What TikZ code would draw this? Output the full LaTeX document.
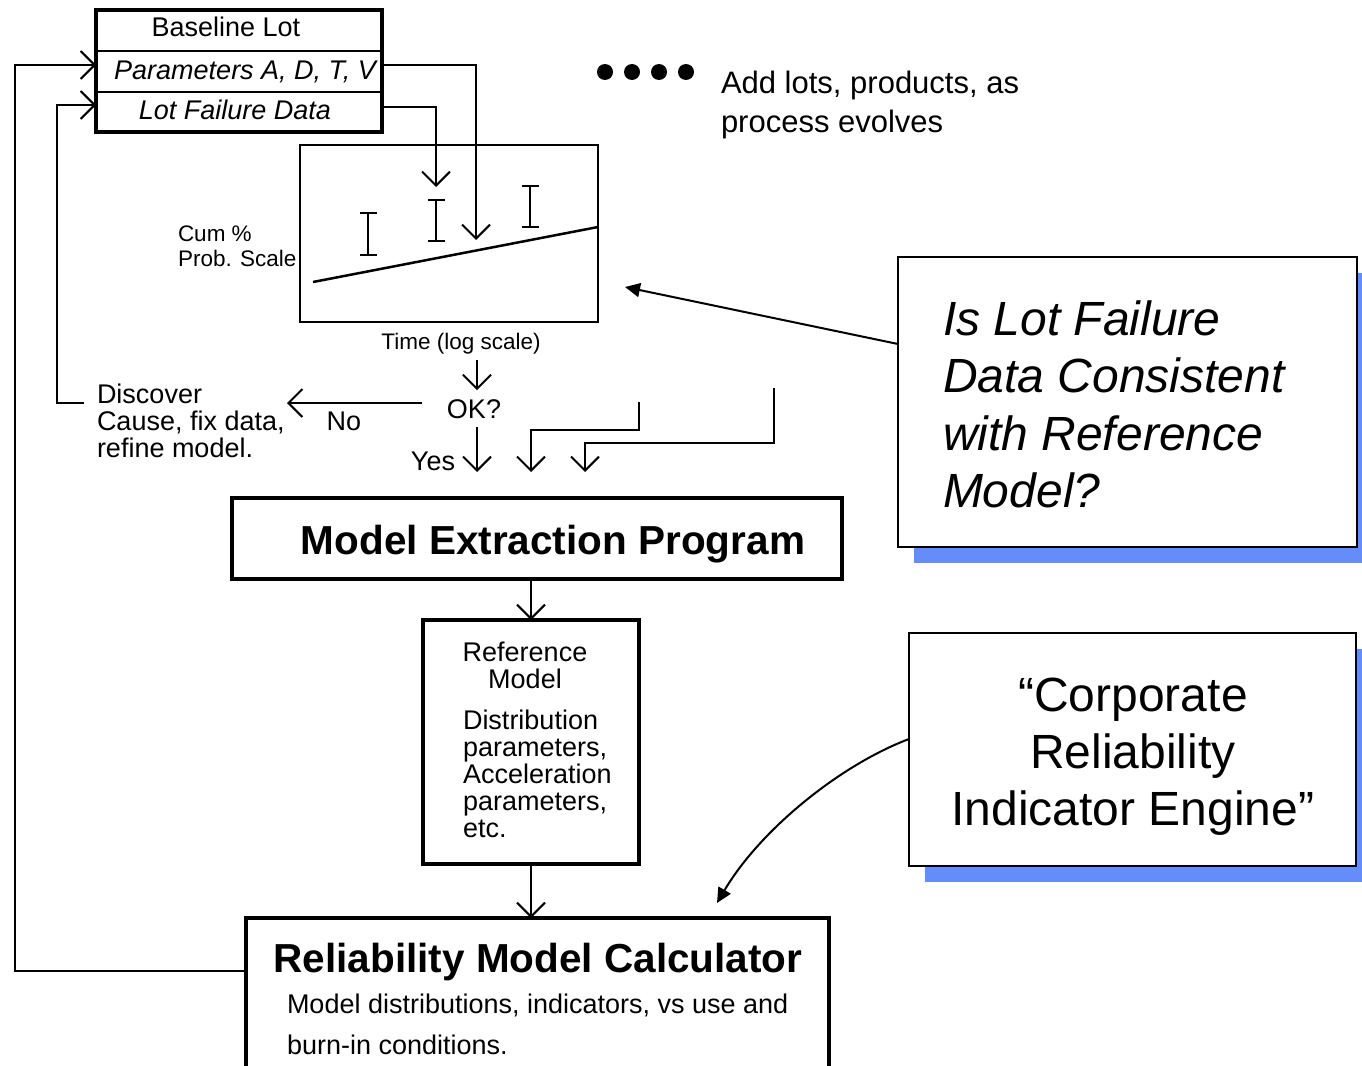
\documentclass[tikz,border=0pt]{standalone}
\usepackage{fontspec}
\setmainfont{Liberation Sans}
\usetikzlibrary{arrows.meta,calc,shadows}
\definecolor{shadowblue}{RGB}{100,141,250}
% stacked lines: left aligned / centred, baseline = first line
\newcommand\leftlines[1]{\vtop{\halign{##\hfil\cr#1\crcr}}}
\newcommand\ctrlines[1]{\vtop{\halign{\hfil##\hfil\cr#1\crcr}}}
\newcommand\fntS{\fontsize{22.5}{25}\selectfont}
\newcommand\fntM{\fontsize{27}{24.5}\selectfont}
\newcommand\fntR{\fontsize{27}{27}\selectfont}
\newcommand\fntB{\fontsize{40.5}{40}\selectfont\bfseries}
\newcommand\fntXL{\fontsize{48}{57.5}\selectfont}
\begin{document}
\begin{tikzpicture}[x=1pt,y=-1pt,
  every node/.style={inner sep=0pt,outer sep=0pt},
  heavy/.style={draw,line width=4pt},
  rowbox/.style={draw,line width=2.5pt,minimum width=286pt},
  conn/.style={line width=2pt,-{Straight Barb[length=14pt,width=28pt]}},
  pointer/.style={line width=2pt,-{Triangle[length=15pt,width=14pt]}},
  callout/.style={draw,line width=2.5pt,fill=white,
    drop shadow={shadow xshift=16pt,shadow yshift=-16pt,fill=shadowblue,opacity=1}},
  plotline/.style={line width=2.5pt}
]
\useasboundingbox (0,0) rectangle (1362,1065);

% ---- baseline lot record ----
\node[rowbox,minimum height=41pt] (r1) at (239,30.5) {};
\node[rowbox,minimum height=41pt] (r2) at (239,71.5) {};
\node[rowbox,minimum height=40pt] (r3) at (239,112) {};
\node[heavy,minimum width=286pt,minimum height=122pt] (lot) at (239,71) {};
\node[anchor=base,font=\fntM] (lotname) at (226,37) {Baseline Lot};
\node[anchor=base,font=\fntM\itshape] (lotpar) at (245,79) {Parameters A, D, T, V};
\node[anchor=base,font=\fntM\itshape] (lotfail) at (235,119) {Lot Failure Data};

% ---- more lots ----
\foreach \x in {605,632,659,686} \fill (\x,72) circle[radius=8pt];
\node[anchor=base west,font=\fontsize{31}{39}\selectfont] (addlots) at (721,93)
  {\leftlines{Add lots, products, as\cr process evolves}};

% ---- probability plot ----
\node[draw,line width=2.5pt,minimum width=298pt,minimum height=177pt] (chart) at (449,233.5) {};
\draw[plotline] (313,282) -- (chart.east |- 0,227);
\foreach \x/\a/\b in {368/213/255,436/200/241,530/186/227}
  \draw[plotline] (\x-8.5,\a) -- (\x+8.5,\a) (\x,\a) -- (\x,\b) (\x-8.5,\b) -- (\x+8.5,\b);
\node[anchor=base west,font=\fntS] (cum) at (178,241) {\leftlines{Cum \%\cr Prob. Scale}};
\node[anchor=base,font=\fntS,inner ysep=6pt] (time) at (461,349) {Time (log scale)};

% ---- data flow into the plot ----
\coordinate (tipA) at (476,240);
\coordinate (tipB) at (436,187);
\draw[conn] (r2.east |- 0,65) -| (tipA);
\draw[conn] (r3.east |- 0,107) -| (tipB);

% ---- model extraction, reference model, calculator ----
\node[heavy,minimum width=610pt,minimum height=81pt] (mep) at (537,538.5) {};
\node[anchor=base,font=\fntB] (meplabel) at (553,554) {Model Extraction Program};

\node[heavy,minimum width=216pt,minimum height=244pt] (rm) at (531,742) {};
\node[anchor=base,font=\fntR] (rmhead) at (525,661) {\ctrlines{Reference\cr Model}};
\node[anchor=base west,font=\fntR] (rmbody) at (463,729)
  {\leftlines{Distribution\cr parameters,\cr Acceleration\cr parameters,\cr etc.}};
\draw[conn] (mep.south -| rm.north) -- (rm.north);

\node[heavy,minimum width=583pt,minimum height=172pt] (rmc) at (537.5,1004) {};
\node[anchor=base,font=\fntB] (rmclabel) at (538,972) {Reliability Model Calculator};
\node[anchor=base west,font=\fontsize{27}{41}\selectfont] (rmcsub) at (287,1013)
  {\leftlines{Model distributions, indicators, vs use and\cr burn-in conditions.}};
\draw[conn] (rm.south) -- (rm.south |- rmc.north);

% ---- decision ----
\coordinate (okaxis) at (477,0);
\node[anchor=base,font=\fntM,inner xsep=25pt,inner ysep=9pt] (ok) at (474,418) {OK?};
\draw[conn] (okaxis |- time.south) -- (okaxis |- ok.north);
\node[anchor=base west,font=\fntR] (disc) at (97,403)
  {\leftlines{Discover\cr Cause, fix data,\cr refine model.}};
\coordinate (notip) at (287,403);
\draw[conn] (ok.west |- notip) -- (notip);
\node[anchor=base,font=\fntM] (no) at (344,430) {No};
\coordinate (dstart) at (84,403);
\draw[conn] (dstart) -| (57,105) -- (r3.west |- 0,105);
\draw[conn] (rmc.west |- 0,971) -| (15,65) -- (r2.west |- 0,65);

\coordinate (tip1) at (477,472);
\coordinate (tip2) at (531,472);
\coordinate (tip3) at (585,472);
\draw[conn] (okaxis |- ok.south) -- (tip1);
\node[anchor=base east,font=\fntM] (yes) at (455,470) {Yes};
\coordinate (in2) at (639,402);
\coordinate (in3) at (774,388);
\draw[conn] (in2) |- (tip2 |- 0,430) -- (tip2);
\draw[conn] (in3) |- (tip3 |- 0,443) -- (tip3);

% ---- callouts ----
\node[callout,minimum width=459pt,minimum height=290pt] (isl) at (1127.5,402) {};
\node[anchor=base west,font=\fntXL\itshape] (isltext) at (943,335)
  {\leftlines{Is Lot Failure\cr Data Consistent\cr with Reference\cr Model?}};
\coordinate (chartpt) at (625,287);
\draw[pointer] (isl.west |- 0,344) -- (chartpt);

\node[callout,minimum width=447pt,minimum height=233pt] (cre) at (1132.5,749.5) {};
\node[anchor=base,font=\fontsize{48}{57}\selectfont] (cretext) at (1133,711)
  {\ctrlines{“Corporate\cr Reliability\cr Indicator Engine”}};
\coordinate (calcpt) at (717,903);
\draw[pointer] (cre.west |- 0,739) .. controls (840,765) and (760,830) .. (calcpt);
\end{tikzpicture}
\end{document}
